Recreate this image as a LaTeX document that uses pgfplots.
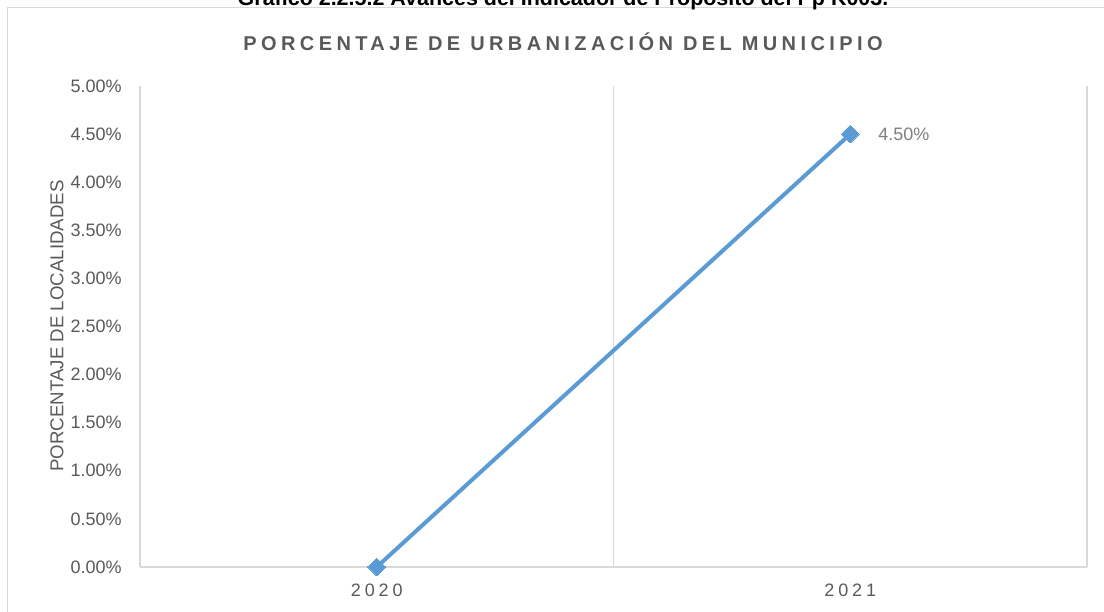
\documentclass[border=0pt]{standalone}
\usepackage{fontspec}
\setmainfont{Liberation Sans}
\newfontfamily\titlefont[LetterSpace=22]{Liberation Sans Bold}
\newfontfamily\xfont[LetterSpace=22]{Liberation Sans}
\usepackage{pgfplots}
\pgfplotsset{compat=1.18}
\definecolor{linec}{HTML}{5B9BD5}
\definecolor{gridc}{HTML}{D9D9D9}
\definecolor{txt}{HTML}{595959}
\definecolor{lbl}{HTML}{7F7F7F}
\begin{document}
\begin{tikzpicture}[x=0.75pt,y=0.75pt]
\useasboundingbox (0,0) rectangle (1104,611);
\draw[gridc, line width=1.1pt] (7.5,-20) -- (7.5,603.5) -- (1130,603.5);
\node[anchor=base, font=\bfseries\fontsize{16.1}{18}\selectfont] at (563,605) {Gráfico 2.2.5.2 Avances del Indicador de Propósito del Pp K003.};
\node[anchor=base, font=\titlefont\fontsize{15}{18}\selectfont, text=txt] at (563,560) {PORCENTAJE DE URBANIZACIÓN DEL MUNICIPIO};
\begin{axis}[at={(105pt,33pt)}, anchor=south west, scale only axis,
  width=710.25pt, height=360.75pt,
  xmin=-0.5, xmax=1.5, ymin=0, ymax=0.05,
  scaled y ticks=false,
  axis line style={draw=none},
  major tick length=0pt, minor tick length=0pt,
  xtick={0,1}, xticklabels={2020,2021},
  minor xtick={-0.5,0.5,1.5}, xminorgrids,
  minor grid style={gridc, line width=1.1pt},
  ytick={0,0.005,0.01,0.015,0.02,0.025,0.03,0.035,0.04,0.045,0.05},
  yticklabels={0.00\%,0.50\%,1.00\%,1.50\%,2.00\%,2.50\%,3.00\%,3.50\%,4.00\%,4.50\%,5.00\%},
  yticklabel style={font=\fontsize{13.5}{16}\selectfont, text=txt, inner sep=0pt, anchor=east, xshift=-13.5pt},
  xticklabel style={font=\xfont\fontsize{13.5}{16}\selectfont, text=txt, inner sep=0pt, anchor=north, yshift=-12.5pt},
  clip=false,
  point meta=explicit symbolic,
  nodes near coords,
  every node near coord/.append style={anchor=west, inner sep=0pt, xshift=21pt, yshift=0pt, font=\fontsize{13.5}{16}\selectfont, text=lbl},
]
\draw[gridc, line width=1.1pt] (axis cs:-0.5,0) -- (axis cs:1.5,0);
\addplot[color=linec, line width=3pt, mark=square*, mark size=4.7pt, mark options={rotate=45, line width=0pt}]
  coordinates {(0,0) [] (1,0.045) [4.50\%]};
\end{axis}
\node[rotate=90, font=\fontsize{14}{16}\selectfont, text=txt] at (57,285) {PORCENTAJE DE LOCALIDADES};
\end{tikzpicture}
\end{document}
